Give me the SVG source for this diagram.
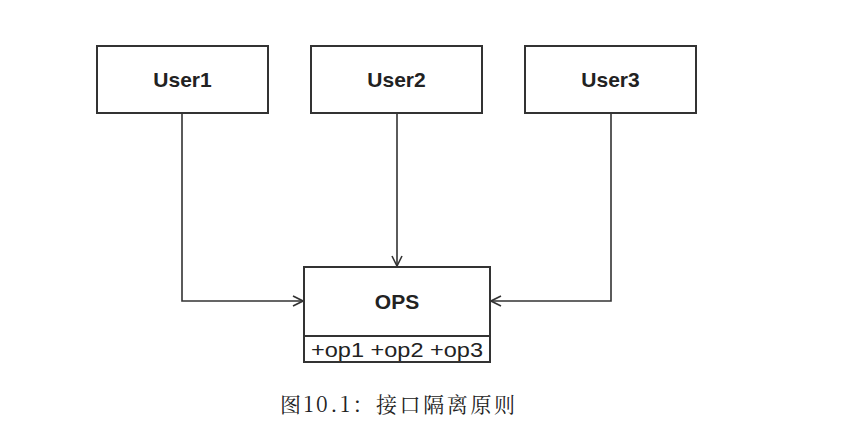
<svg xmlns="http://www.w3.org/2000/svg" width="854" height="425" viewBox="0 0 854 425">
<style>
.box{fill:#fff;stroke:#333;stroke-width:2}
.lbl{font-family:"Liberation Sans",Arial,sans-serif;font-weight:bold;font-size:21px;fill:#222;text-anchor:middle}
.ops{font-family:"Liberation Sans",Arial,sans-serif;font-size:21px;fill:#222;text-anchor:middle}
.conn{fill:none;stroke:#333;stroke-width:1.6}
</style>
<defs>
<marker id="arr" viewBox="0 0 12 12" refX="11" refY="6" markerWidth="12" markerHeight="12" markerUnits="userSpaceOnUse" orient="auto">
<path d="M1,1 L11,6 L1,11" fill="none" stroke="#333" stroke-width="1.6"/>
</marker>
</defs>
<rect width="854" height="425" fill="#fff"/>
<g id="connectors">
<path class="conn" d="M182,113 V301 H303" marker-end="url(#arr)"/>
<path class="conn" d="M397,113 V266" marker-end="url(#arr)"/>
<path class="conn" d="M611,113 V301 H491" marker-end="url(#arr)"/>
</g>
<g id="user1">
<rect class="box" x="97" y="46" width="171" height="67"/>
<text class="lbl" x="182.5" y="87">User1</text>
</g>
<g id="user2">
<rect class="box" x="311" y="46" width="171" height="67"/>
<text class="lbl" x="396.5" y="87">User2</text>
</g>
<g id="user3">
<rect class="box" x="525" y="46" width="171" height="67"/>
<text class="lbl" x="610.5" y="87">User3</text>
</g>
<g id="ops">
<rect class="box" x="304" y="267" width="186" height="95"/>
<line x1="304" y1="336" x2="490" y2="336" stroke="#333" stroke-width="2"/>
<text class="lbl" x="397" y="309">OPS</text>
<text class="ops" x="397" y="357" textLength="172" lengthAdjust="spacingAndGlyphs">+op1 +op2 +op3</text>
</g>
<text x="280" y="412" font-family="'Noto Serif CJK SC','Liberation Serif','Noto Sans CJK SC',serif" font-size="21" fill="#222" textLength="235">图10.1：接口隔离原则</text>
</svg>
